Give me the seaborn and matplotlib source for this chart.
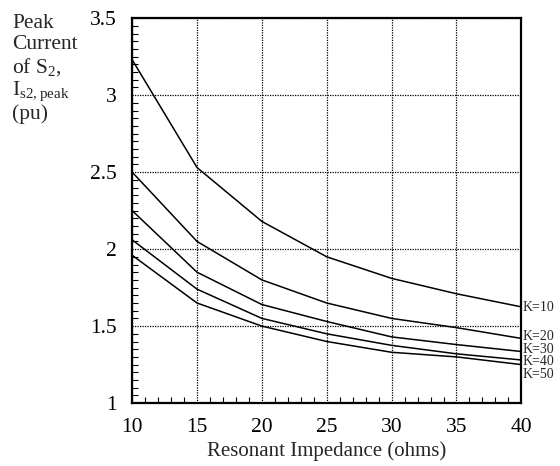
import numpy as np
import pandas as pd
import matplotlib
matplotlib.use("Agg")
import matplotlib.pyplot as plt
from matplotlib.ticker import MultipleLocator
import seaborn as sns

impedance = [10, 15, 20, 25, 30, 35, 40]
k10 = [3.23, 2.53, 2.18, 1.95, 1.81, 1.71, 1.625]
k20 = [2.50, 2.05, 1.80, 1.65, 1.55, 1.49, 1.42]
k30 = [2.25, 1.85, 1.64, 1.53, 1.43, 1.38, 1.335]
k40 = [2.06, 1.74, 1.55, 1.45, 1.375, 1.32, 1.28]
k50 = [1.96, 1.65, 1.50, 1.40, 1.33, 1.30, 1.25]
k_labels = ["K=10", "K=20", "K=30", "K=40", "K=50"]
k_label_y = [1.62, 1.435, 1.345, 1.27, 1.185]
series = [k10, k20, k30, k40, k50]
x_ticks = [10, 15, 20, 25, 30, 35, 40]
y_ticks = [1, 1.5, 2, 2.5, 3, 3.5]
y_tick_labels = ["1", "1.5", "2", "2.5", "3", "3.5"]

rows = []
for lab, vals in zip(k_labels, series):
    for x, v in zip(impedance, vals):
        rows.append({"Z": x, "I": v, "K": lab})
df = pd.DataFrame(rows)

sns.set_theme(style="ticks")
plt.rcParams["font.family"] = ["Liberation Serif", "DejaVu Serif"]
plt.rcParams["mathtext.default"] = "regular"

fig = plt.figure(figsize=(5.6, 4.66), dpi=100)
ax = fig.add_axes([0.236, 0.135, 0.695, 0.826])

sns.lineplot(data=df, x="Z", y="I", hue="K", palette=["black"] * 5,
             linewidth=1.1, legend=False, ax=ax)

ax.set_xlim(10, 40)
ax.set_ylim(1, 3.5)
ax.set_xticks(x_ticks)
ax.set_xticklabels([str(t) for t in x_ticks])
ax.set_yticks(y_ticks)
ax.set_yticklabels(y_tick_labels)
ax.xaxis.set_minor_locator(MultipleLocator(1))
ax.yaxis.set_minor_locator(MultipleLocator(0.05))
ax.tick_params(axis="both", which="both", direction="in", labelsize=15.5,
               colors="black")
ax.tick_params(axis="x", which="major", length=0, pad=11)
ax.tick_params(axis="y", which="major", length=0, pad=11)
ax.tick_params(which="minor", length=4, width=0.8)
ax.grid(True, which="major", linestyle=(0, (1, 1)), color="black",
        linewidth=0.9)
for s in ax.spines.values():
    s.set_visible(True)
    s.set_linewidth(1.6)
    s.set_color("black")

ax.set_xlabel("Resonant Impedance (ohms)", fontsize=15, labelpad=3)
ax.set_ylabel("")

for lab, ly in zip(k_labels, k_label_y):
    ax.text(40.12, ly, lab, fontsize=10, va="center", ha="left",
            clip_on=False)

fig.text(0.022, 0.97, "Peak\nCurrent\nof S$_2$,\nI$_{s2,peak}$\n(pu)",
         fontsize=15.5, va="top", ha="left", linespacing=1.12)

fig.savefig("out.png", dpi=100)
